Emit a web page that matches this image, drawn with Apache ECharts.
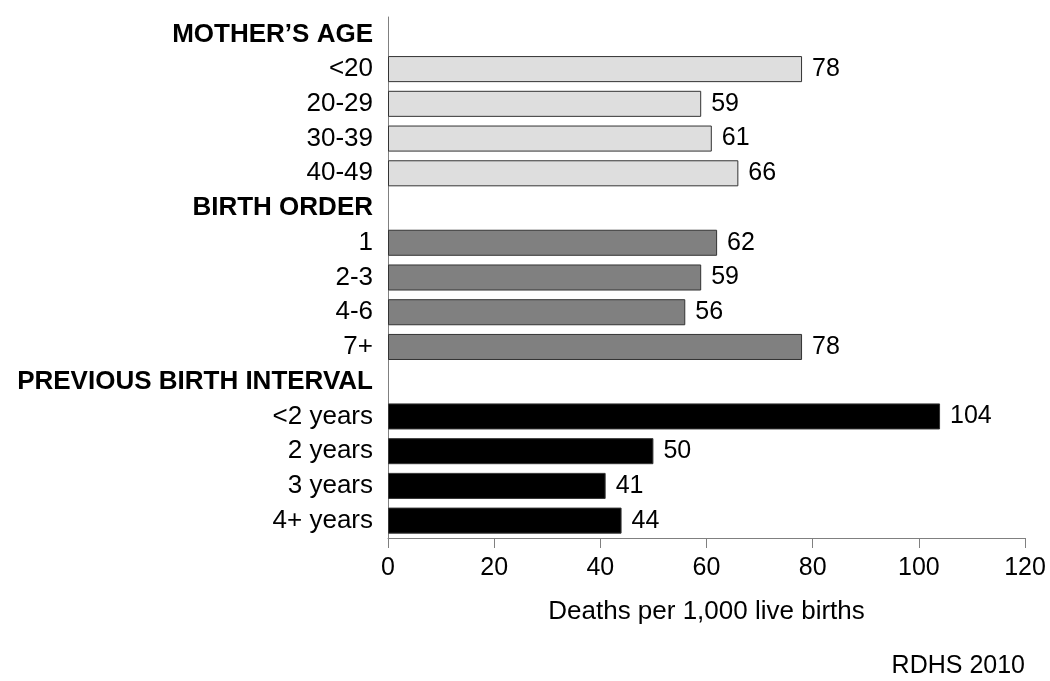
<!DOCTYPE html>
<html>
<head>
<meta charset="utf-8">
<script src="https://cdn.jsdelivr.net/npm/echarts@6/dist/echarts.min.js"></script>
<style>
  html, body { margin: 0; padding: 0; background: #fff; }
  #chart { width: 1050px; height: 681px; }
</style>
</head>
<body>
<div id="chart"></div>
<script>
// rows top to bottom; headers are blank rows with bold labels
const categories = [
  "MOTHER\u2019S AGE", "<20", "20-29", "30-39", "40-49",
  "BIRTH ORDER", "1", "2-3", "4-6", "7+",
  "PREVIOUS BIRTH INTERVAL", "<2 years", "2 years", "3 years", "4+ years"
];
const headers = ["MOTHER\u2019S AGE", "BIRTH ORDER", "PREVIOUS BIRTH INTERVAL"];
const motherAge = ["-", 78, 59, 61, 66, "-", "-", "-", "-", "-", "-", "-", "-", "-", "-"];
const birthOrder = ["-", "-", "-", "-", "-", "-", 62, 59, 56, 78, "-", "-", "-", "-", "-"];
const birthInterval = ["-", "-", "-", "-", "-", "-", "-", "-", "-", "-", "-", 104, 50, 41, 44];
const xTicks = [0, 20, 40, 60, 80, 100, 120];

const font = "Liberation Sans, Arial, sans-serif";

function barSeries(name, data, fill) {
  return {
    name: name,
    type: "bar",
    stack: "all",
    barCategoryGap: "25%",
    data: data,
    itemStyle: { color: fill, borderColor: "#333", borderWidth: 1 },
    label: {
      show: true,
      position: "right",
      distance: 10,
      color: "#000",
      fontFamily: font,
      fontSize: 25,
    },
  };
}

const chart = echarts.init(document.getElementById("chart"));
chart.setOption({
  animation: false,
  title: {
    text: "RDHS 2010",
    right: 20,
    top: 649,
    textStyle: { fontFamily: font, fontSize: 25, fontWeight: "normal", color: "#000" },
  },
  grid: { left: 388, right: 25, top: 17, bottom: 143 },
  xAxis: {
    type: "value",
    min: xTicks[0],
    max: xTicks[xTicks.length - 1],
    interval: 20,
    name: "Deaths per 1,000 live births",
    nameLocation: "middle",
    nameGap: 61,
    nameTextStyle: { fontFamily: font, fontSize: 26, color: "#000" },
    axisLine: { show: true, lineStyle: { color: "#808080", width: 1 } },
    axisTick: { show: true, length: 10, lineStyle: { color: "#808080" } },
    axisLabel: { fontFamily: font, fontSize: 25, color: "#000", margin: 18 },
    splitLine: { show: false },
  },
  yAxis: {
    type: "category",
    inverse: true,
    data: categories,
    axisLine: { show: true, lineStyle: { color: "#808080", width: 1 } },
    axisTick: { show: false },
    axisLabel: {
      margin: 15,
      fontFamily: font,
      fontSize: 26,
      color: "#000",
      formatter: function (v) {
        return headers.indexOf(v) >= 0 ? "{h|" + v + "}" : v;
      },
      rich: {
        h: { fontFamily: font, fontSize: 26, fontWeight: "bold", color: "#000" },
      },
    },
  },
  series: [
    barSeries("Mother's age", motherAge, "#dedede"),
    barSeries("Birth order", birthOrder, "#808080"),
    barSeries("Previous birth interval", birthInterval, "#000000"),
  ],
});
</script>
</body>
</html>
